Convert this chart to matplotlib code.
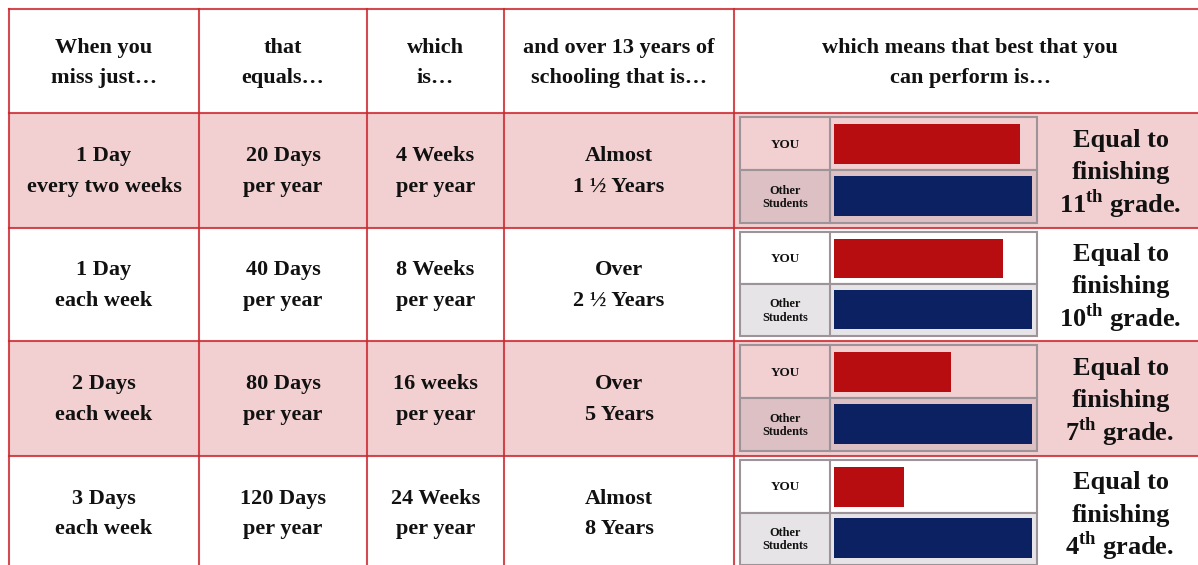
import matplotlib
matplotlib.use("Agg")
import matplotlib.pyplot as plt
from matplotlib.patches import Rectangle

# ---- data ----
headers = ["When you\nmiss just…", "that\nequals…", "which\nis…",
           "and over 13 years of\nschooling that is…",
           "which means that best that you\ncan perform is…"]
missed = ["1 Day\nevery two weeks", "1 Day\neach week", "2 Days\neach week", "3 Days\neach week"]
per_year = ["20 Days\nper year", "40 Days\nper year", "80 Days\nper year", "120 Days\nper year"]
weeks = ["4 Weeks\nper year", "8 Weeks\nper year", "16 weeks\nper year", "24 Weeks\nper year"]
total = ["Almost\n1 ½ Years", "Over\n2 ½ Years", "Over\n5 Years", "Almost\n8 Years"]
grade_num = ["11", "10", "7", "4"]
you_level = [11.3, 10.25, 7.1, 4.25]
other_level = [12, 12, 12, 12]
bar_labels = ["YOU", "Other\nStudents"]

# ---- style ----
pink = "#f2cfd0"
pink_dark = "#dcc0c3"
gray_cell = "#e6e4e6"
line_red = "#cc2a31"
panel_edge = "#9c9499"
red_bar = "#b80d10"
navy_bar = "#0c2161"
ink = "#111111"

plt.rcParams["font.family"] = ["Liberation Serif", "DejaVu Serif"]
plt.rcParams["mathtext.fontset"] = "custom"
plt.rcParams["mathtext.rm"] = "Liberation Serif:bold"

col_edges = [9, 199, 367, 504, 734, 1206]
row_edges = [9, 113, 228, 341, 456, 570]

fig = plt.figure(figsize=(11.98, 5.65), dpi=100)
ax = fig.add_axes([0, 0, 1, 1])
ax.set_xlim(0, 1198)
ax.set_ylim(565, 0)
ax.axis("off")

# row shading
for i in range(4):
    if i % 2 == 0:
        y0, y1 = row_edges[i + 1], row_edges[i + 2]
        ax.add_patch(Rectangle((col_edges[0], y0), col_edges[-1] - col_edges[0], y1 - y0,
                               facecolor=pink, edgecolor="none", zorder=0))

# grid lines
for x in col_edges:
    ax.plot([x, x], [row_edges[0], row_edges[-1]], color=line_red, lw=1.5, alpha=0.85, zorder=2)
for y in row_edges:
    ax.plot([col_edges[0], col_edges[-1]], [y, y], color=line_red, lw=1.5, alpha=0.85, zorder=2)

txt = dict(ha="center", va="center", fontsize=16, fontweight="bold", color=ink,
           linespacing=1.68)

for j, h in enumerate(headers):
    ax.text((col_edges[j] + col_edges[j + 1]) / 2, (row_edges[0] + row_edges[1]) / 2 + 2, h, **txt)

columns = [missed, per_year, weeks, total]
for i in range(4):
    yc = (row_edges[i + 1] + row_edges[i + 2]) / 2 + 1
    for j, col in enumerate(columns):
        ax.text((col_edges[j] + col_edges[j + 1]) / 2, yc, col[i], **txt)

    # grade statement, one line at a time
    big = dict(ha="center", va="baseline", fontsize=19, fontweight="bold", color=ink)
    ax.text(1121, yc - 33 + 8, "Equal to", **big)
    ax.text(1121, yc + 8, "finishing", **big)
    ax.text(1120, yc + 33 + 8, grade_num[i] + r"$^{\mathrm{th}}$ grade.", **big)

    # bar panel
    top = row_edges[i + 1] + 4
    bot = row_edges[i + 2] - 5
    mid = (top + bot) / 2
    bg_top = pink if i % 2 == 0 else "white"
    bg_bot = pink_dark if i % 2 == 0 else gray_cell
    ax.add_patch(Rectangle((740, top), 297, mid - top, facecolor=bg_top,
                           edgecolor=panel_edge, lw=1.5, zorder=3))
    ax.add_patch(Rectangle((740, mid), 297, bot - mid, facecolor=bg_bot,
                           edgecolor=panel_edge, lw=1.5, zorder=3))
    ax.plot([830, 830], [top, bot], color=panel_edge, lw=1.5, zorder=4)
    ax.text(785, (top + mid) / 2 + 1, bar_labels[0], ha="center", va="center",
            fontsize=9.5, fontweight="bold", color=ink, zorder=5)
    ax.text(785, (mid + bot) / 2 + 1, bar_labels[1], ha="center", va="center",
            fontsize=8.8, fontweight="bold", color=ink, linespacing=1.15, zorder=5)

    # bars in their own axes
    fw, fh = 1198.0, 565.0
    bax = fig.add_axes([832 / fw, 1 - (bot - 1) / fh, (1036 - 832) / fw, (bot - top - 2) / fh])
    bax.barh([0, 1], [you_level[i], other_level[i]], height=0.78,
             color=[red_bar, navy_bar], left=0)
    bax.set_xlim(-0.13, 12.25)
    bax.set_ylim(1.5, -0.5)
    bax.axis("off")
    bax.patch.set_alpha(0)

fig.savefig("out.png", dpi=100)
